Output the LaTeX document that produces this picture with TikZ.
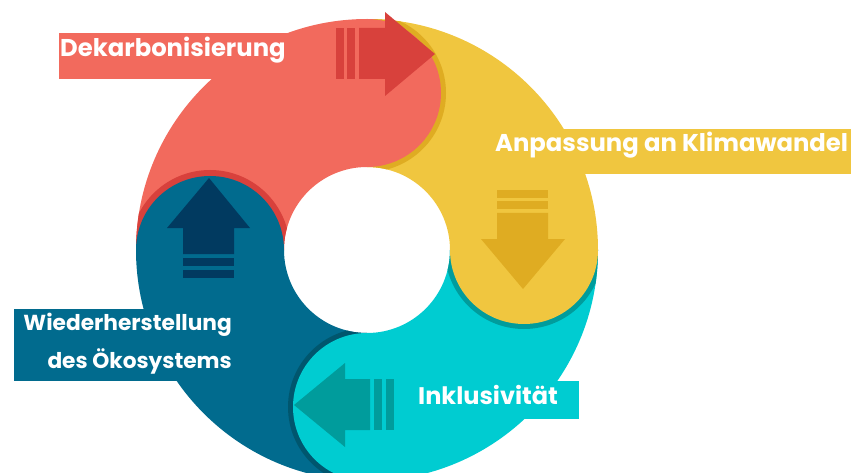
\documentclass[tikz,border=0pt]{standalone}
\usepackage{fontspec}
\setmainfont{Poppins}
\definecolor{redpart}{HTML}{F26A5D}
\definecolor{reddark}{HTML}{D8413C}
\definecolor{yellowpart}{HTML}{F0C63F}
\definecolor{yellowdark}{HTML}{DFAC22}
\definecolor{cyanpart}{HTML}{00CCD1}
\definecolor{cyandark}{HTML}{009C9C}
\definecolor{bluepart}{HTML}{016B8E}
\definecolor{bluedark}{HTML}{013A60}
\definecolor{blueshadow}{HTML}{00566E}
\tikzset{
  ringpart/.style 2 args={insert path={(#1:231) arc[start angle=#1, end angle=#2, radius=231]
      -- (#2:83) arc[start angle=#2, end angle=#1, radius=83] -- cycle}},
  lbl/.style={text=white, inner sep=0pt, font=\bfseries\fontsize{#1}{#1}\selectfont},
}
\begin{document}
\begin{tikzpicture}[x=1pt, y=-1pt]

    \useasboundingbox (0,0) rectangle (851,473);

    % label boxes
    \fill[redpart] (59,33) rectangle (295,79);
    \fill[yellowpart] (555,129) rectangle (851,174);
    \fill[bluepart] (14,309) rectangle (240,381);
    \fill[cyanpart] (405,381) rectangle (579,419);

    \begin{scope}[shift={(367,250)}]
    % four quarters of the ring
    \fill[redpart, ringpart={180}{270}];
    \fill[yellowpart, ringpart={270}{360}];
    \fill[cyanpart, ringpart={0}{90}];
    \fill[bluepart, ringpart={90}{180}];

    % shadows of the round ends
    \begin{scope}
      \path[clip, ringpart={270}{360}];
      \fill[yellowdark] (0,-157) circle [radius=79];
    \end{scope}
    \begin{scope}
      \path[clip, ringpart={0}{90}];
      \fill[cyandark] (157,0) circle [radius=79];
    \end{scope}
    \begin{scope}
      \path[clip, ringpart={90}{180}];
      \fill[blueshadow] (0,157) circle [radius=79];
    \end{scope}
    \begin{scope}
      \path[clip, ringpart={180}{270}];
      \fill[reddark] (-157,0) circle [radius=80];
    \end{scope}

    % round ends
    \fill[redpart] (0,-157) circle [radius=74];
    \fill[yellowpart] (157,0) circle [radius=74];
    \fill[cyanpart] (0,157) circle [radius=74];
    \fill[bluepart] (-157,0) circle [radius=74];
    \end{scope}

    % arrow right (top)
    \fill[reddark] (336,28) rectangle (344,79);
    \fill[reddark] (347,28) rectangle (355,79);
    \fill[reddark] (359,28) -- (385,28) -- (385,12) -- (435,54)
    	-- (385,96) -- (385,79) -- (359,79) -- cycle;

    % arrow down (right)
    \fill[yellowdark] (497,190) rectangle (548,198);
    \fill[yellowdark] (497,201) rectangle (548,209);
    \fill[yellowdark] (497,213) -- (548,213) -- (548,239) -- (565,239)
    	-- (523,289) -- (481,239) -- (497,239) -- cycle;

    % arrow left (bottom)
    \fill[cyandark] (374,379) rectangle (382,430);
    \fill[cyandark] (386,379) rectangle (394,430);
    \fill[cyandark] (370,379) -- (370,430) -- (345,430) -- (345,447)
    	-- (294,405) -- (345,363) -- (345,379) -- cycle;

    % arrow up (left)
    \fill[bluedark] (183,258) rectangle (234,266);
    \fill[bluedark] (183,270) rectangle (234,278);
    \fill[bluedark] (183,254) -- (183,228) -- (167,228) -- (209,178)
    	-- (250,228) -- (234,228) -- (234,254) -- cycle;

    % labels
    \node[lbl=24.3, anchor=base west] (dekarb) at (60,57) {Dekarbonisierung};
    \node[lbl=24.3, anchor=base west] (anpass) at (495,152) {Anpassung an Klimawandel};
    \node[lbl=24, anchor=base west] (inklus) at (418,404) {Inklusivität};
    \node[lbl=21.7, anchor=base east] (wieder) at (232,330) {Wiederherstellung};
    \node[lbl=21.7, anchor=base east] (oekosys) at (232,368) {des Ökosystems};

\end{tikzpicture}
\end{document}
